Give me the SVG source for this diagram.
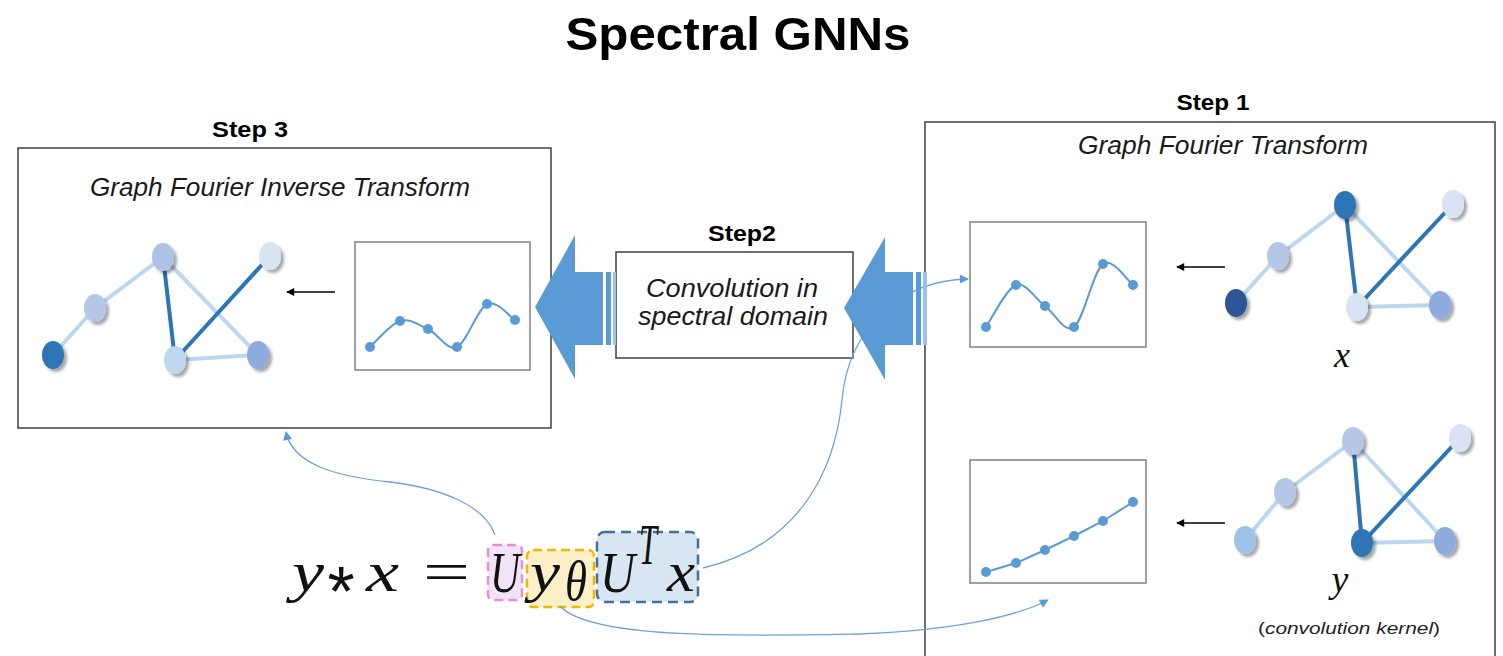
<svg xmlns="http://www.w3.org/2000/svg" width="1503" height="656" viewBox="0 0 1503 656">
<style>
.box{fill:#fff;stroke:#404040;stroke-width:1.5}
.cbox{fill:#fff;stroke:#808080;stroke-width:1.5}
.step{font-family:"Liberation Sans",Arial,sans-serif;font-weight:bold;font-size:22px;fill:#000}
.it{font-family:"Liberation Sans",Arial,sans-serif;font-style:italic;font-size:25px;fill:#1a1a1a}
.ln{stroke:#bdd7ee;stroke-width:4}
.dk{stroke:#2e75b6;stroke-width:4}
.curve{fill:none;stroke:#5b9bd5;stroke-width:2}
.dot{fill:#5b9bd5}
.blk{stroke:#000;stroke-width:1.3;marker-end:url(#ah)}
.conn{fill:none;stroke:#6fa3d8;stroke-width:1.3;marker-end:url(#bh)}
.big{fill:#5b9bd5}
.m{font-family:"Liberation Serif","Times New Roman",serif;font-style:italic;font-size:58px;fill:#111}
.mu{font-family:"Liberation Serif","Times New Roman",serif;font-size:58px;fill:#111}
</style>
<defs>
<marker id="ah" viewBox="0 0 10 10" refX="9" refY="5" markerWidth="9" markerHeight="8" markerUnits="userSpaceOnUse" orient="auto"><path d="M0,0 L10,5 L0,10 Z" fill="#000"/></marker>
<marker id="bh" viewBox="0 0 10 10" refX="9" refY="5" markerWidth="11" markerHeight="9" markerUnits="userSpaceOnUse" orient="auto"><path d="M0,0 L10,5 L0,10 Z" fill="#5b9bd5"/></marker>
<filter id="sh" x="-50%" y="-50%" width="200%" height="200%"><feDropShadow dx="3" dy="3" stdDeviation="1.8" flood-color="#000" flood-opacity="0.35"/></filter>
</defs>

<text x="738" y="50" text-anchor="middle" font-family="'Liberation Sans',Arial,sans-serif" font-weight="bold" font-size="47" textLength="345" lengthAdjust="spacingAndGlyphs">Spectral GNNs</text>

<!-- Step 3 -->
<g id="step3">
<text class="step" x="250" y="137" text-anchor="middle" textLength="76" lengthAdjust="spacingAndGlyphs">Step 3</text>
<rect class="box" x="18" y="148" width="533" height="280"/>
<text class="it" x="90" y="196" textLength="380" lengthAdjust="spacingAndGlyphs">Graph Fourier Inverse Transform</text>
<g id="graph3">
<line class="ln" x1="53" y1="355" x2="95" y2="308"/>
<line class="ln" x1="95" y1="308" x2="163" y2="257"/>
<line class="ln" x1="163" y1="257" x2="258" y2="355"/>
<line class="ln" x1="175" y1="360" x2="258" y2="355"/>
<line class="dk" x1="163" y1="257" x2="175" y2="360"/>
<line class="dk" x1="270" y1="256" x2="175" y2="360"/>
<g filter="url(#sh)">
<ellipse cx="53" cy="355" rx="11" ry="14" fill="#2e75b6"/>
<ellipse cx="95" cy="308" rx="11" ry="14" fill="#b4c7e7"/>
<ellipse cx="163" cy="257" rx="11" ry="14" fill="#adc2e5"/>
<ellipse cx="270" cy="256" rx="11" ry="14" fill="#dae3f3"/>
<ellipse cx="175" cy="360" rx="11" ry="14" fill="#bdd7ee"/>
<ellipse cx="258" cy="355" rx="11" ry="14" fill="#8faadc"/>
</g>
</g>
<line class="blk" x1="335" y1="292" x2="287" y2="292"/>
<rect class="cbox" x="355" y="242" width="175" height="128"/>
<path class="curve" d="M370,347 C375,342.7 390.3,324 400,321 C409.7,318 418.5,324.7 428,329 C437.5,333.3 447.2,351.2 457,347 C466.8,342.8 477.3,308.5 487,304 C496.7,299.5 510.3,317.3 515,320"/>
<g class="dot"><circle cx="370" cy="347" r="5"/><circle cx="400" cy="321" r="5"/><circle cx="428" cy="329" r="5"/><circle cx="457" cy="347" r="5"/><circle cx="487" cy="304" r="5"/><circle cx="515" cy="320" r="5"/></g>
</g>

<!-- Step 1 -->
<g id="step1">
<text class="step" x="1213" y="110" text-anchor="middle" textLength="73" lengthAdjust="spacingAndGlyphs">Step 1</text>
<rect class="box" x="925" y="122" width="570" height="545"/>
<text class="it" x="1078" y="154" textLength="290" lengthAdjust="spacingAndGlyphs">Graph Fourier Transform</text>
<rect class="cbox" x="970" y="222" width="176" height="125"/>
<path class="curve" d="M986,327 C991,320 1006.2,288.5 1016,285 C1025.8,281.5 1035.3,299 1045,306 C1054.7,313 1064.3,334 1074,327 C1083.7,320 1093.2,271 1103,264 C1112.8,257 1128,281.5 1133,285"/>
<g class="dot"><circle cx="986" cy="327" r="5"/><circle cx="1016" cy="285" r="5"/><circle cx="1045" cy="306" r="5"/><circle cx="1074" cy="327" r="5"/><circle cx="1103" cy="264" r="5"/><circle cx="1133" cy="285" r="5"/></g>
<line class="blk" x1="1225" y1="267" x2="1177" y2="267"/>
<g id="graphx">
<line class="ln" x1="1236" y1="303" x2="1278" y2="256"/>
<line class="ln" x1="1278" y1="256" x2="1345" y2="205"/>
<line class="ln" x1="1345" y1="205" x2="1440" y2="305"/>
<line class="ln" x1="1357" y1="307" x2="1440" y2="305"/>
<line class="dk" x1="1345" y1="205" x2="1357" y2="307"/>
<line class="dk" x1="1453" y1="204" x2="1357" y2="307"/>
<g filter="url(#sh)">
<ellipse cx="1236" cy="303" rx="11" ry="14" fill="#2f5597"/>
<ellipse cx="1278" cy="256" rx="11" ry="14" fill="#b4c7e7"/>
<ellipse cx="1345" cy="205" rx="11" ry="14" fill="#2e75b6"/>
<ellipse cx="1453" cy="204" rx="11" ry="14" fill="#dae3f3"/>
<ellipse cx="1357" cy="307" rx="11" ry="14" fill="#dae3f3"/>
<ellipse cx="1440" cy="305" rx="11" ry="14" fill="#8faadc"/>
</g>
</g>
<text x="1342" y="367" text-anchor="middle" font-family="'Liberation Serif',serif" font-style="italic" font-size="36" fill="#111">x</text>

<rect class="cbox" x="970" y="460" width="176" height="123"/>
<path class="curve" d="M986,572 L1016,563 L1045,550 L1074,536 L1103,521 L1133,502"/>
<g class="dot"><circle cx="986" cy="572" r="5"/><circle cx="1016" cy="563" r="5"/><circle cx="1045" cy="550" r="5"/><circle cx="1074" cy="536" r="5"/><circle cx="1103" cy="521" r="5"/><circle cx="1133" cy="502" r="5"/></g>
<line class="blk" x1="1225" y1="523" x2="1177" y2="523"/>
<g id="graphy">
<line class="ln" x1="1245" y1="540" x2="1285" y2="492"/>
<line class="ln" x1="1285" y1="492" x2="1353" y2="441"/>
<line class="ln" x1="1353" y1="441" x2="1445" y2="541"/>
<line class="ln" x1="1362" y1="543" x2="1445" y2="541"/>
<line class="dk" x1="1353" y1="441" x2="1362" y2="543"/>
<line class="dk" x1="1460" y1="438" x2="1362" y2="543"/>
<g filter="url(#sh)">
<ellipse cx="1245" cy="540" rx="11" ry="14" fill="#9dc3e6"/>
<ellipse cx="1285" cy="492" rx="11" ry="14" fill="#b4c7e7"/>
<ellipse cx="1353" cy="441" rx="11" ry="14" fill="#b4c7e7"/>
<ellipse cx="1460" cy="438" rx="11" ry="14" fill="#dae3f3"/>
<ellipse cx="1362" cy="543" rx="11" ry="14" fill="#2e75b6"/>
<ellipse cx="1445" cy="541" rx="11" ry="14" fill="#8faadc"/>
</g>
</g>
<text x="1340" y="592" text-anchor="middle" font-family="'Liberation Serif',serif" font-style="italic" font-size="38" fill="#111">y</text>
<text x="1349" y="634" text-anchor="middle" font-family="'Liberation Sans',Arial,sans-serif" font-size="17" fill="#222" textLength="182" lengthAdjust="spacingAndGlyphs">(<tspan font-style="italic">convolution kernel</tspan>)</text>
</g>

<!-- Step 2 -->
<g id="step2">
<text class="step" x="742" y="241" text-anchor="middle" textLength="68" lengthAdjust="spacingAndGlyphs">Step2</text>
<rect class="box" x="616" y="252" width="237" height="106"/>
<text class="it" x="732" y="297" text-anchor="middle" textLength="172" lengthAdjust="spacingAndGlyphs">Convolution in</text>
<text class="it" x="733" y="325" text-anchor="middle" textLength="190" lengthAdjust="spacingAndGlyphs">spectral domain</text>
</g>

<!-- Formula -->
<g id="formula">
<rect x="488" y="545" width="34" height="55" rx="5" fill="#f1e4f6" stroke="#e58fd9" stroke-width="2.5" stroke-dasharray="9,5"/>
<rect x="527" y="550" width="67" height="57" rx="6" fill="#fdefc8" stroke="#f2b600" stroke-width="2.5" stroke-dasharray="9,5"/>
<rect x="597" y="532" width="101" height="70" rx="8" fill="#d8e5f3" stroke="#41719c" stroke-width="2.5" stroke-dasharray="10,6"/>
<text class="m" x="292" y="591" textLength="32" lengthAdjust="spacingAndGlyphs">y</text>
<text x="341" y="616" text-anchor="middle" font-family="'Liberation Sans',Arial,sans-serif" font-size="70" fill="#111">*</text>
<text class="m" x="366" y="591" textLength="33" lengthAdjust="spacingAndGlyphs">x</text>
<text class="mu" x="423" y="591" textLength="47" lengthAdjust="spacingAndGlyphs">=</text>
<text class="m" x="490" y="592" textLength="30" lengthAdjust="spacingAndGlyphs">U</text>
<text class="m" x="530" y="591" textLength="30" lengthAdjust="spacingAndGlyphs">y</text>
<text class="m" x="565" y="600" font-size="36" textLength="22" lengthAdjust="spacingAndGlyphs">θ</text>
<text class="m" x="600" y="592" textLength="35" lengthAdjust="spacingAndGlyphs">U</text>
<text class="m" x="639" y="564" font-size="34" textLength="18" lengthAdjust="spacingAndGlyphs">T</text>
<text class="m" x="667" y="591" textLength="28" lengthAdjust="spacingAndGlyphs">x</text>
</g>

<!-- Connectors -->
<g id="connectors">
<path class="big" d="M535,307 L575,235 L575,272 L603,272 L603,345 L575,345 L575,379 Z"/>
<rect x="606" y="272" width="5" height="73" fill="#5b9bd5"/>
<rect x="613" y="272" width="3" height="73" fill="#9cc2e8"/>
<path class="conn" d="M703,568 C800,545 835,470 842,400 C848,330 900,280 968,279"/>
<path class="big" d="M844,308 L885,237 L885,272 L913,272 L913,345 L885,345 L885,380 Z"/>
<rect x="916" y="272" width="5" height="73" fill="#5b9bd5"/>
<rect x="923" y="272" width="4" height="73" fill="#9cc2e8"/>
<path class="conn" d="M495,535 C485,505 440,488 390,482 C330,476 292,462 286,432"/>
<path class="conn" d="M560,606 C590,640 750,636 860,634 C960,630 1020,615 1048,600"/>
</g>
</svg>
